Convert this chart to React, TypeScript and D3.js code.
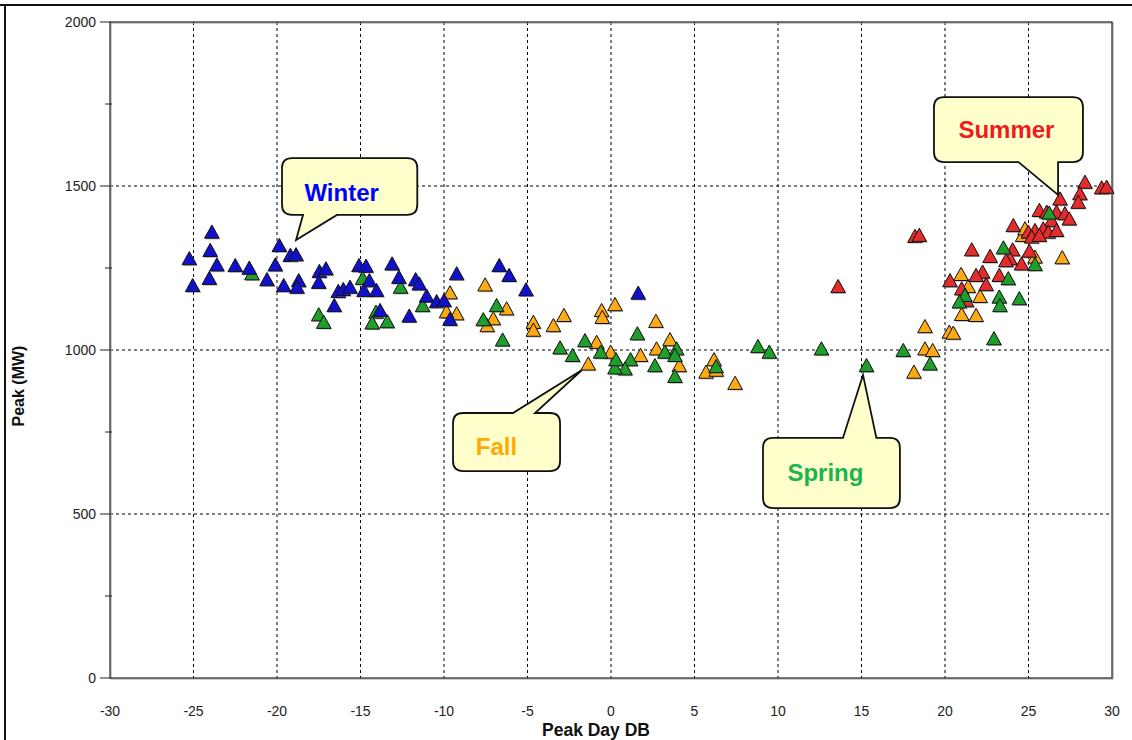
import React from "react";
import * as d3 from "d3";

// ---- data (Peak Day DB, Peak MW) ----
const winterX = [-23.9, -24.0, -25.25, -23.6, -24.05, -25.05, -22.5, -21.66, -20.6, -20.1, -19.86, -19.2, -18.86, -19.6, -18.7, -18.8, -17.46, -17.07, -17.5, -16.33, -16.03, -15.63, -16.57, -15.09, -14.67, -14.47, -14.79, -14.04, -13.83, -12.08, -13.11, -12.7, -11.7, -11.48, -11.04, -10.44, -10.0, -9.64, -9.24, -6.69, -6.1, -5.09, 1.63];
const winterY = [1361, 1305, 1280, 1261, 1220, 1198, 1259, 1251, 1216, 1261, 1320, 1290, 1292, 1198, 1213, 1193, 1241, 1249, 1208, 1180, 1186, 1193, 1137, 1259, 1257, 1213, 1183, 1183, 1122, 1105, 1264, 1223, 1216, 1203, 1166, 1149, 1152, 1095, 1234, 1259, 1229, 1185, 1175];

const springX = [-21.5, -17.5, -17.2, -14.87, -14.07, -14.3, -13.4, -12.6, -11.28, -6.85, -7.65, -6.49, 1.58, 3.23, 3.93, 3.83, 3.83, 2.63, 1.17, 0.84, 0.24, 0.3, -0.62, -1.56, -2.3, -3.05, 6.29, 8.8, 9.48, 12.6, 15.3, 17.5, 19.1, 22.93, 21.19, 20.86, 23.25, 23.29, 24.45, 23.79, 25.39, 23.5, 26.24];
const springY = [1234, 1109, 1086, 1220, 1117, 1084, 1088, 1193, 1137, 1137, 1094, 1032, 1051, 995, 1005, 985, 921, 954, 972, 944, 947, 972, 995, 1030, 985, 1008, 951, 1012, 995, 1005, 954, 1000, 959, 1036, 1168, 1148, 1163, 1137, 1158, 1219, 1262, 1313, 1419];

const fallX = [-9.64, -9.24, -9.85, -7.54, -6.25, -7.05, -7.41, -4.65, -4.65, -3.45, -2.82, -0.56, -0.52, 0.24, 2.69, 3.53, 2.73, 4.09, 1.77, -0.02, -0.86, -1.36, 5.69, 6.17, 6.3, 7.43, 18.14, 18.8, 18.8, 19.26, 20.26, 20.5, 21.0, 21.86, 22.1, 21.39, 20.96, 24.65, 24.79, 25.39, 27.02];
const fallY = [1176, 1112, 1118, 1200, 1127, 1097, 1076, 1086, 1062, 1076, 1107, 1122, 1101, 1140, 1089, 1033, 1005, 954, 985, 995, 1025, 959, 934, 972, 940, 900, 934, 1073, 1005, 1000, 1056, 1053, 1110, 1107, 1165, 1195, 1232, 1351, 1371, 1285, 1283];

const summerX = [28.38, 28.08, 27.98, 29.38, 29.68, 26.89, 25.65, 26.09, 26.68, 27.18, 27.44, 26.38, 24.09, 24.99, 25.39, 25.88, 26.18, 26.68, 25.19, 25.65, 18.2, 18.46, 21.6, 24.05, 22.7, 25.05, 23.89, 23.65, 24.58, 22.25, 23.25, 21.86, 20.3, 22.46, 21.0, 21.29, 13.6];
const summerY = [1513, 1478, 1452, 1496, 1498, 1462, 1427, 1422, 1422, 1417, 1401, 1396, 1381, 1361, 1366, 1371, 1361, 1366, 1346, 1351, 1348, 1351, 1307, 1307, 1287, 1303, 1280, 1274, 1264, 1239, 1229, 1229, 1213, 1201, 1188, 1152, 1195];

const xTicks = [-30, -25, -20, -15, -10, -5, 0, 5, 10, 15, 20, 25, 30];
const yTicks = [0, 500, 1000, 1500, 2000];
const yMinorTicks = [250, 750, 1250, 1750];

const seriesNames = ["Fall", "Summer", "Spring", "Winter"];
const seriesColors = ["#ffa914", "#e42c2c", "#1e9e2a", "#1111cc"];
const labelColors = ["#ffaa00", "#ee1c1c", "#1db34f", "#0000ff"];

// callouts: tip (data), box extents (data), pointer base x (data), side of pointer
const calloutTipX = [-1.74, 26.77, 15.09, -18.86];
const calloutTipY = [939, 1473, 924, 1335];
const calloutBoxX0 = [-9.46, 19.34, 9.1, -19.7];
const calloutBoxX1 = [-3.05, 28.26, 17.3, -11.6];
const calloutBoxYTop = [808, 1771, 732, 1585];
const calloutBoxYBot = [631, 1573, 518, 1412];
const calloutBaseX0 = [-5.87, 24.4, 13.89, -18.44];
const calloutBaseX1 = [-4.55, 26.77, 15.89, -16.41];
const calloutSide = ["top", "bottom", "top", "bottom"];

const W = 1132, H = 740;
const x = d3.scaleLinear().domain([-30, 30]).range([110, 1112]);
const y = d3.scaleLinear().domain([0, 2000]).range([678, 22]);

const FONT = "'Liberation Sans', Arial, sans-serif";

function tri(cx: number, cy: number) {
  return `M${cx},${cy - 6.6}L${cx + 7.3},${cy + 6.6}L${cx - 7.3},${cy + 6.6}Z`;
}

function calloutPath(i: number) {
  const x0 = x(calloutBoxX0[i]), x1 = x(calloutBoxX1[i]);
  const y0 = y(calloutBoxYTop[i]), y1 = y(calloutBoxYBot[i]);
  const tx = x(calloutTipX[i]), ty = y(calloutTipY[i]);
  const b0 = x(calloutBaseX0[i]), b1 = x(calloutBaseX1[i]);
  const r = 10;
  if (calloutSide[i] === "top") {
    return `M${x0 + r},${y0}H${b0}L${tx},${ty}L${b1},${y0}H${x1 - r}Q${x1},${y0} ${x1},${y0 + r}V${y1 - r}Q${x1},${y1} ${x1 - r},${y1}H${x0 + r}Q${x0},${y1} ${x0},${y1 - r}V${y0 + r}Q${x0},${y0} ${x0 + r},${y0}Z`;
  }
  return `M${x0 + r},${y0}H${x1 - r}Q${x1},${y0} ${x1},${y0 + r}V${y1 - r}Q${x1},${y1} ${x1 - r},${y1}H${b1}L${tx},${ty}L${b0},${y1}H${x0 + r}Q${x0},${y1} ${x0},${y1 - r}V${y0 + r}Q${x0},${y0} ${x0 + r},${y0}Z`;
}

export default function App() {
  const series = [
    { xs: fallX, ys: fallY },
    { xs: summerX, ys: summerY },
    { xs: springX, ys: springY },
    { xs: winterX, ys: winterY },
  ];
  const textPos = [
    { dx: -10, dy: 13 },
    { dx: -2, dy: 8 },
    { dx: -6, dy: 8 },
    { dx: -8, dy: 15 },
  ];
  return (
    <svg width={W} height={H} style={{ position: "absolute", left: 0, top: 0, background: "#fff" }} fontFamily={FONT}>
      {/* outer frame (top & left visible) */}
      <line x1={0} x2={W} y1={5} y2={5} stroke="#111" strokeWidth={2} />
      <line x1={5} x2={5} y1={5} y2={H} stroke="#111" strokeWidth={2} />

      {/* grid */}
      {xTicks.slice(1, -1).map((t) => (
        <line key={"gx" + t} x1={x(t)} x2={x(t)} y1={y(2000)} y2={y(0)} stroke="#000" strokeDasharray="3,3" strokeWidth={1} />
      ))}
      {yTicks.slice(1, -1).map((t) => (
        <line key={"gy" + t} x1={x(-30)} x2={x(30)} y1={y(t)} y2={y(t)} stroke="#000" strokeDasharray="3,3" strokeWidth={1} />
      ))}

      {/* plot frame */}
      <rect x={x(-30)} y={y(2000)} width={x(30) - x(-30)} height={y(0) - y(2000)} fill="none" stroke="#999" strokeWidth={1} transform="translate(1,1)" />
      <rect x={x(-30)} y={y(2000)} width={x(30) - x(-30)} height={y(0) - y(2000)} fill="none" stroke="#222" strokeWidth={1.2} />

      {/* y ticks */}
      {yTicks.map((t) => (
        <g key={"yt" + t}>
          <line x1={x(-30) - 10} x2={x(-30)} y1={y(t)} y2={y(t)} stroke="#222" />
          <text x={96} y={y(t)} dy="0.35em" textAnchor="end" fontSize={14} fill="#222">{t}</text>
        </g>
      ))}
      {yMinorTicks.map((t) => (
        <line key={"ym" + t} x1={x(-30) - 5} x2={x(-30) + 2} y1={y(t)} y2={y(t)} stroke="#222" />
      ))}
      {/* x tick labels */}
      {xTicks.map((t) => (
        <text key={"xt" + t} x={x(t)} y={716} textAnchor="middle" fontSize={14} fill="#222">{t}</text>
      ))}

      {/* axis titles */}
      <text x={596} y={736} textAnchor="middle" fontSize={17.5} fontWeight="bold" fill="#111">Peak Day DB</text>
      <text transform={`translate(24,${(y(0) + y(2000)) / 2 + 36}) rotate(-90)`} textAnchor="middle" fontSize={16} fontWeight="bold" fill="#111">Peak (MW)</text>

      {/* points */}
      {series.map((s, si) => (
        <g key={"s" + si}>
          {s.xs.map((v, i) => (
            <g key={i}>
              <path d={tri(x(v) + 1.2, y(s.ys[i]) + 1.2)} fill="#777" opacity={0.5} />
              <path d={tri(x(v), y(s.ys[i]))} fill={seriesColors[si]} stroke="#111" strokeWidth={1} strokeLinejoin="miter" />
            </g>
          ))}
        </g>
      ))}

      {/* callouts */}
      {seriesNames.map((name, i) => {
        const cx = (x(calloutBoxX0[i]) + x(calloutBoxX1[i])) / 2 + textPos[i].dx;
        const cy = (y(calloutBoxYTop[i]) + y(calloutBoxYBot[i])) / 2 + textPos[i].dy;
        return (
          <g key={"c" + name}>
            <path d={calloutPath(i)} fill="#ffffcc" stroke="#111" strokeWidth={1.8} strokeLinejoin="miter" />
            <text x={cx} y={cy} textAnchor="middle" fontSize={24} fontWeight="bold" fill={labelColors[i]}>{name}</text>
          </g>
        );
      })}
    </svg>
  );
}
